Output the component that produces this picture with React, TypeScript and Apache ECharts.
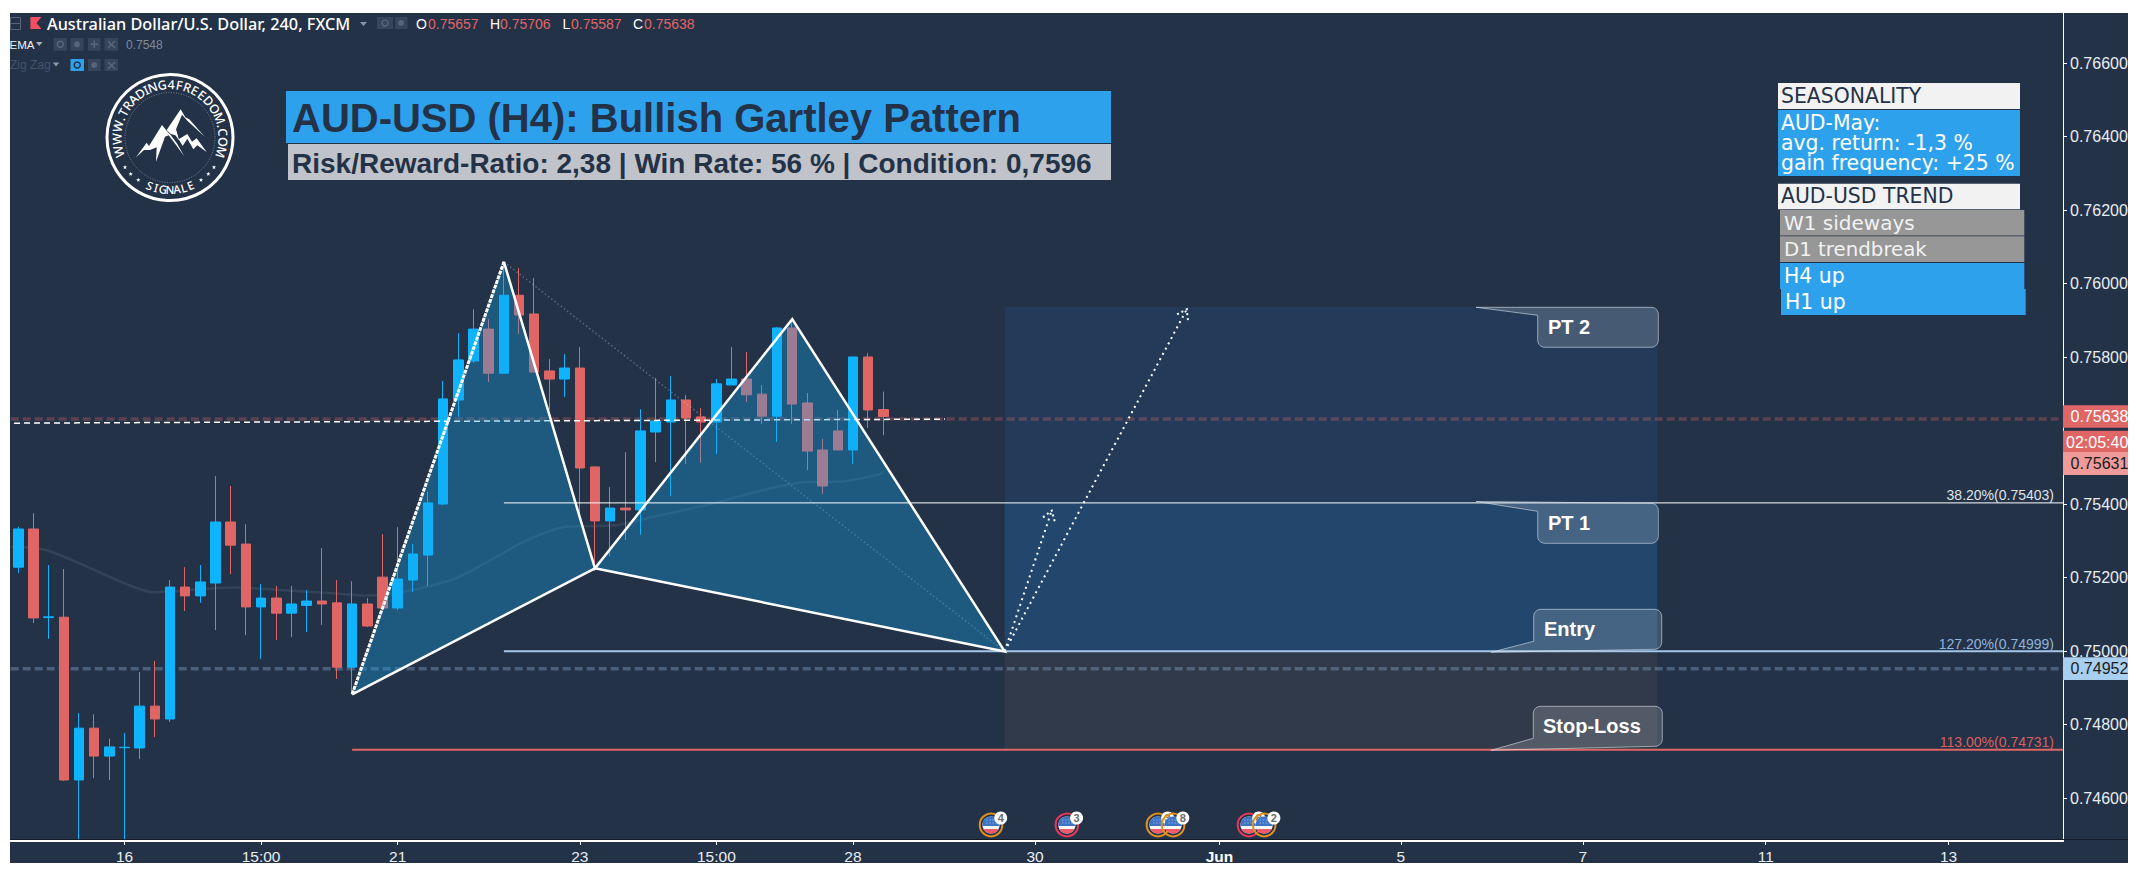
import React, { useEffect, useRef } from "react";
import * as echarts from "echarts";

// ---- data ----
const opens = [0.75228,0.75332,0.75091,0.75092,0.74649,0.7479,0.74714,0.74737,0.74736,0.7485,0.74815,0.75174,0.7515,0.75185,0.75351,0.75291,0.7512,0.75144,0.75103,0.75124,0.75136,0.75131,0.74956,0.75128,0.75201,0.75117,0.75193,0.75261,0.754,0.75683,0.75789,0.75876,0.75756,0.75968,0.75917,0.75762,0.7574,0.7577,0.75501,0.75354,0.75389,0.75384,0.75596,0.75623,0.75683,0.75637,0.75623,0.75724,0.7574,0.75699,0.75639,0.75879,0.75675,0.75547,0.75599,0.75547,0.758,0.75657];
const closes = [0.75332,0.7509,0.75093,0.74649,0.7479,0.74714,0.74739,0.74738,0.7485,0.74815,0.75174,0.7515,0.75188,0.75351,0.75288,0.7512,0.75144,0.75103,0.75128,0.75136,0.75128,0.74956,0.75128,0.75068,0.75117,0.75196,0.75264,0.75403,0.75686,0.75792,0.75876,0.75756,0.75968,0.75914,0.75759,0.7574,0.7577,0.75498,0.75354,0.75389,0.75384,0.75599,0.75626,0.75683,0.75634,0.75623,0.75727,0.7574,0.75697,0.75639,0.75879,0.75672,0.75544,0.75449,0.75547,0.758,0.75656,0.75638];
const lows = [0.75212,0.75076,0.75033,0.74646,0.74488,0.74654,0.74649,0.74488,0.74706,0.74766,0.74807,0.75109,0.75131,0.75057,0.75209,0.75043,0.74978,0.7503,0.75038,0.75052,0.75071,0.74924,0.74882,0.75065,0.75111,0.75111,0.75161,0.75177,0.75397,0.75637,0.75784,0.75732,0.75756,0.75862,0.75759,0.75656,0.75691,0.7537,0.75225,0.75258,0.75302,0.75316,0.75514,0.75422,0.75509,0.75512,0.75536,0.75724,0.75678,0.75618,0.75569,0.75618,0.75492,0.75427,0.75547,0.75509,0.75607,0.75587];
const highs = [0.75338,0.75375,0.75234,0.75223,0.74831,0.74828,0.74761,0.74777,0.74943,0.74973,0.75193,0.75228,0.75234,0.75476,0.75449,0.75345,0.75182,0.75177,0.75177,0.75166,0.7528,0.75193,0.7519,0.75144,0.75318,0.75337,0.75291,0.75433,0.75735,0.75865,0.7593,0.75903,0.7606,0.76042,0.76015,0.75794,0.75808,0.75827,0.75501,0.75446,0.75541,0.75658,0.75743,0.75748,0.75697,0.75661,0.7574,0.75827,0.75814,0.75724,0.75881,0.759,0.75702,0.75577,0.75656,0.758,0.75811,0.75706];

const emaPoints = [[-0.5,0.75284],[1.87,0.75274],[7.14,0.75182],[8.9,0.7516],[14.15,0.75173],[17.25,0.75166],[20.75,0.75157],[23,0.75151],[28.46,0.75192],[31.1,0.75247],[33.5,0.75301],[36.1,0.75338],[39.4,0.75342],[41,0.75357],[45.4,0.75398],[49.7,0.75444],[52,0.7546],[54.15,0.75461],[57,0.75484]];

const xTickBars = [7,16,25,37,46,55,67,79.15,91.1,103.1,115.15,127.2];
const xTickLabels = ["16","15:00","21","23","15:00","28","30","Jun","5","7","11","13"];
const yTicks = [0.766,0.764,0.762,0.76,0.758,0.754,0.752,0.75,0.748,0.746];

const patternBars = [22,32,38,51,65];
const patternPrices = [0.74882,0.76059,0.75225,0.75903,0.74999];

const levelPrices = [0.75403,0.74999,0.74731];
const levelStartBars = [32,32,22];
const levelLabels = ["38.20%(0.75403)","127.20%(0.74999)","113.00%(0.74731)"];
const levelColors = ["#ffffff","#a5c6e8","#e06666"];
const levelLabelColors = ["#dfe3e8","#8fb4dc","#d9605f"];

const zoneRanges = [[65,108,0.75936,0.74999],[65,108,0.75403,0.74999],[65,108,0.74999,0.74731]];
const zoneFills = ["rgba(33,150,243,0.10)","rgba(33,150,243,0.13)","rgba(200,150,100,0.08)"];

const arrowLines = [[65,0.74999,68.1,0.75382],[65,0.74999,77,0.7593]];

const lastPrice = 0.75631;
const stopDash = 0.74952;
const slopedDash = [[-0.28,0.7562],[61.07,0.75631]];

const priceTags = [0.75638,0.75631,0.74952];
const priceTagTexts = ["0.75638","0.75631","0.74952"];
const countdown = "02:05:40";

const eventBars = [64.1,69.1,75.1,76.1,81.1,82.1];
const eventCounts = ["4","3","3","8","8","2"];
const eventRings = ["#e09020","#e8385a","#e09020","#e09020","#e8385a","#e09020"];

// ---- layout ----
const BG = "#243248";
const DARK = "#243248";
const BLUE = "#2ea1ec";
const UP = "#0fb4ff";
const DOWN = "#e06666";
const AR = '"Liberation Sans", Arial, sans-serif';
const DJ = '"DejaVu Sans", sans-serif';
const GRID_L = 10.7, AXIS_X = 2063, AXIS_Y = 841, TOP = 13;
const X_MAX = 134.74;
const Y_MAX = 0.767361, Y_MIN = 0.74483;

const arc = (cx: number, cy: number, r: number, a0: number, a1: number, n = 5) => {
  const pts: number[][] = [];
  for (let i = 0; i <= n; i++) {
    const a = a0 + ((a1 - a0) * i) / n;
    pts.push([cx + r * Math.cos(a), cy + r * Math.sin(a)]);
  }
  return pts;
};
const PI = Math.PI;

// callout with pointer, px layout
function calloutPts(x0: number, y0: number, x1: number, y1: number, tip: number[], lower: boolean, join: number) {
  const r = 7;
  if (!lower) {
    return [
      tip, [x0, y0 + join],
      ...arc(x0 + r, y1 - r, r, PI, PI / 2),
      ...arc(x1 - r, y1 - r, r, PI / 2, 0),
      ...arc(x1 - r, y0 + r, r, 0, -PI / 2),
    ];
  }
  return [
    tip, [x0, y1 - join],
    ...arc(x0 + r, y0 + r, r, PI, PI * 1.5),
    ...arc(x1 - r, y0 + r, r, -PI / 2, 0),
    ...arc(x1 - r, y1 - r, r, 0, PI / 2),
  ];
}
const txt = (text: string, x: number, y: number, fill: string, font: string, align = "left") => ({
  type: "text",
  z: 60,
  style: { text, x, y, fill, font, align, verticalAlign: "middle" },
});
const box = (x: number, y: number, w: number, h: number, fill: string, z = 55) => ({
  type: "rect",
  z,
  shape: { x, y, width: w, height: h },
  style: { fill },
});
const poly = (points: number[][], fill: string, z = 60, extra: any = {}) => ({
  type: "polygon",
  z,
  shape: { points },
  style: { fill, ...extra },
});

function logo() {
  const cx = 170, cy = 137.6;
  const out: any[] = [];
  out.push({ type: "circle", z: 60, shape: { cx, cy, r: 63 }, style: { fill: "none", stroke: "#ffffff", lineWidth: 3 } });
  out.push({ type: "circle", z: 60, shape: { cx, cy, r: 45 }, style: { fill: "none", stroke: "rgba(255,255,255,0.55)", lineWidth: 0.7, lineDash: [1, 1.5] } });
  const top = "WWW.TRADING4FREEDOM.COM";
  const w: Record<string, number> = { W: 1.08, ".": 0.38, I: 0.38, M: 0.92, O: 0.88, D: 0.82, G: 0.84, N: 0.82, C: 0.78 };
  const widths = top.split("").map((c) => w[c] ?? 0.7);
  const sum = widths.reduce((a, b) => a + b, 0);
  let acc = 0;
  top.split("").forEach((c, i) => {
    const th = ((-112 + ((acc + widths[i] / 2) / sum) * 224) * PI) / 180;
    acc += widths[i];
    out.push({
      type: "text", z: 60, x: cx + 53 * Math.sin(th), y: cy - 53 * Math.cos(th), rotation: -th,
      style: { text: c, x: 0, y: 0, fill: "#ffffff", font: '500 12.5px "Noto Sans", sans-serif', align: "center", verticalAlign: "middle" },
    });
  });
  "SIGNALE".split("").forEach((c, i) => {
    const ph = ((-23 + i * (46 / 6)) * PI) / 180;
    out.push({
      type: "text", z: 60, x: cx + 52 * Math.sin(ph), y: cy + 52 * Math.cos(ph), rotation: ph,
      style: { text: c, x: 0, y: 0, fill: "#ffffff", font: '500 11.5px "Noto Sans", sans-serif', align: "center", verticalAlign: "middle" },
    });
  });
  [[125, 167.3], [130.7, 174], [138.3, 180], [214, 167.3], [208.3, 174], [201, 180]].forEach(([x, y]) => {
    const pts: number[][] = [];
    for (let i = 0; i < 10; i++) {
      const rr = i % 2 ? 0.9 : 2.3;
      const a = -PI / 2 + (i * PI) / 5;
      pts.push([x + rr * Math.cos(a), y + rr * Math.sin(a)]);
    }
    out.push(poly(pts, "#ffffff"));
  });
  const z = (list: number[][]) => list.map(([a, b]) => [100 + a / 3, 70 + b / 3]);
  out.push(poly(z([[108,262],[140,218],[147,228],[186,165],[198,180],[212,195],[232,222],[252,258],[226,222],[206,196],[195,200],[168,275],[170,232],[150,240],[132,240]]), "#ffffff"));
  out.push(poly(z([[200,180],[242,118],[256,142],[268,148],[314,200],[262,152],[246,134],[228,178],[238,212],[226,196],[212,192]]), "#ffffff"));
  out.push(poly(z([[236,208],[262,192],[276,215],[290,205],[320,246],[292,226],[280,238],[262,206],[248,228]]), "#ffffff"));
  return out;
}

function legend() {
  const btn = "#37455a", glyph = "#56657c";
  const out: any[] = [];
  out.push({ type: "rect", z: 60, shape: { x: 10.5, y: 17.5, width: 10, height: 12 }, style: { fill: "none", stroke: "#566476", lineWidth: 1 } });
  out.push({ type: "line", z: 60, shape: { x1: 10, y1: 23.5, x2: 21, y2: 23.5 }, style: { stroke: "#566476", lineWidth: 1 } });
  out.push(poly([[30.4,17],[41.5,17],[36.5,23],[41.5,29],[30.4,29]], "#f44e62"));
  out.push(txt("Australian Dollar/U.S. Dollar, 240, FXCM", 47, 24, "#ffffff", '500 16.3px "Noto Sans", sans-serif'));
  out.push(poly([[360,22],[367,22],[363.5,26]], "#8b95a3"));
  out.push(box(377, 17, 16, 12, btn, 60), box(395, 17, 12.5, 12, btn, 60));
  out.push({ type: "circle", z: 61, shape: { cx: 385, cy: 23, r: 3 }, style: { fill: "none", stroke: glyph, lineWidth: 1.5 } });
  out.push({ type: "circle", z: 61, shape: { cx: 401, cy: 23, r: 3 }, style: { fill: glyph } });
  const ohlc: [string, string, number, number][] = [["O","0.75657",416,428],["H","0.75706",490,500],["L","0.75587",562.5,571],["C","0.75638",633,644]];
  ohlc.forEach(([k, v, a, b]) => {
    out.push(txt(k, a, 24, "#ffffff", `14px ${AR}`), txt(v, b, 24, DOWN, `14px ${AR}`));
  });
  out.push(txt("EMA", 9.5, 44.5, "#eef1f4", `11.5px ${AR}`));
  out.push(poly([[36,42],[42.5,42],[39.2,46]], "#aab2bc"));
  [[53.6,13.4],[70.5,13],[88,12.5],[104.5,13.5]].forEach(([x, w]) => out.push(box(x, 38, w, 12.7, btn, 60)));
  out.push({ type: "circle", z: 61, shape: { cx: 60.3, cy: 44.3, r: 3 }, style: { fill: "none", stroke: glyph, lineWidth: 1.5 } });
  out.push({ type: "circle", z: 61, shape: { cx: 77, cy: 44.3, r: 3 }, style: { fill: glyph } });
  out.push({ type: "line", z: 61, shape: { x1: 90.5, y1: 44.3, x2: 98, y2: 44.3 }, style: { stroke: glyph, lineWidth: 1.6 } });
  out.push({ type: "line", z: 61, shape: { x1: 94.2, y1: 40.5, x2: 94.2, y2: 48 }, style: { stroke: glyph, lineWidth: 1.6 } });
  out.push({ type: "line", z: 61, shape: { x1: 108, y1: 41, x2: 115, y2: 48 }, style: { stroke: glyph, lineWidth: 1.6 } });
  out.push({ type: "line", z: 61, shape: { x1: 115, y1: 41, x2: 108, y2: 48 }, style: { stroke: glyph, lineWidth: 1.6 } });
  out.push(txt("0.7548", 126, 44.5, "#7f8997", `12px ${AR}`));
  out.push(txt("Zig Zag", 10, 65, "#465367", `12px ${AR}`));
  out.push(poly([[52.7,62.5],[59.4,62.5],[56,66.5]], "#8b95a3"));
  out.push(box(70.5, 59, 13.5, 12, BLUE, 60), box(88, 59, 12.5, 12, btn, 60), box(104.5, 59, 13.5, 12, btn, 60));
  out.push({ type: "circle", z: 61, shape: { cx: 77.2, cy: 65, r: 3 }, style: { fill: "none", stroke: DARK, lineWidth: 1.5 } });
  out.push({ type: "circle", z: 61, shape: { cx: 94.2, cy: 65, r: 3 }, style: { fill: glyph } });
  out.push({ type: "line", z: 61, shape: { x1: 108, y1: 62, x2: 115, y2: 69 }, style: { stroke: glyph, lineWidth: 1.6 } });
  out.push({ type: "line", z: 61, shape: { x1: 115, y1: 62, x2: 108, y2: 69 }, style: { stroke: glyph, lineWidth: 1.6 } });
  return out;
}

function panels() {
  const f = `20.4px ${DJ}`;
  return [
    box(286, 91, 825, 52, BLUE),
    txt("AUD-USD (H4): Bullish Gartley Pattern", 292, 117.5, DARK, `bold 40px ${AR}`),
    box(288, 144, 823, 36, "#c0c4ca"),
    txt("Risk/Reward-Ratio: 2,38 | Win Rate: 56 % | Condition: 0,7596", 292, 163, DARK, `bold 28px ${AR}`),
    box(1778, 83, 242, 26, "#f2f2f2"),
    txt("SEASONALITY", 1781, 96, DARK, f),
    box(1778, 110, 242, 66, BLUE),
    txt("AUD-May:", 1781, 123, "#ffffff", f),
    txt("avg. return: -1,3 %", 1781, 143, "#ffffff", f),
    txt("gain frequency: +25 %", 1781, 163, "#ffffff", f),
    box(1778, 183.7, 242, 25.5, "#f2f2f2"),
    txt("AUD-USD TREND", 1781, 196, DARK, f),
    box(1780, 210, 244.3, 25.6, "#979797"),
    txt("W1 sideways", 1784, 223, "#f2f2f2", `20px ${DJ}`),
    box(1780, 236.3, 244.3, 25.7, "#979797"),
    txt("D1 trendbreak", 1784, 249, "#f2f2f2", `19.8px ${DJ}`),
    box(1780, 263, 244.3, 26, BLUE),
    txt("H4 up", 1784, 276, "#ffffff", f),
    box(1781, 289, 244.7, 26, BLUE),
    txt("H1 up", 1785, 302, "#ffffff", f),
  ];
}

function callouts() {
  const fill = "rgba(255,255,255,0.16)";
  const stroke = "rgba(214,222,232,0.62)";
  const items: [string, number, number, number, number, number[], boolean, number, number][] = [
    ["PT 2", 1537.7, 307.3, 1658.3, 347.3, [1476, 307.3], false, 8, 1548],
    ["PT 1", 1537.7, 503.3, 1658.3, 543.3, [1476, 501.5], false, 8, 1548],
    ["Entry", 1533.7, 609.3, 1661.7, 649.3, [1491, 652.3], true, 8, 1544],
    ["Stop-Loss", 1533.3, 706.3, 1662.3, 746.3, [1491, 750.3], true, 8, 1543],
  ];
  const out: any[] = [];
  items.forEach(([t, x0, y0, x1, y1, tip, lower, join, tx]) => {
    out.push(poly(calloutPts(x0, y0, x1, y1, tip, lower, join), fill, 58, { stroke, lineWidth: 1 }));
    out.push(txt(t, tx, (y0 + y1) / 2 - 0.5, "#ffffff", `bold 20px ${AR}`));
  });
  return out;
}

function renderZone(p: any, api: any) {
  const a = api.coord([api.value(0), api.value(2)]);
  const b = api.coord([api.value(1), api.value(3)]);
  return { type: "rect", shape: { x: a[0], y: a[1], width: b[0] - a[0], height: b[1] - a[1] }, style: { fill: zoneFills[p.dataIndex] } };
}
function renderFill(p: any, api: any) {
  const pts = [0, 1, 2].map((k) => api.coord([api.value(k * 2), api.value(k * 2 + 1)]));
  return { type: "polygon", shape: { points: pts }, style: { fill: "rgba(18,168,236,0.335)" } };
}
function renderLevel(p: any, api: any) {
  const i = p.dataIndex;
  const a = api.coord([api.value(0), api.value(1)]);
  const w = i === 0 ? 1 : 2;
  return {
    type: "group",
    children: [
      { type: "line", shape: { x1: a[0], y1: a[1], x2: AXIS_X, y2: a[1] }, style: { stroke: levelColors[i], lineWidth: w } },
      { type: "text", style: { text: levelLabels[i], x: 2054, y: a[1] - 7.5, fill: levelLabelColors[i], font: `14px ${AR}`, align: "right", verticalAlign: "middle" } },
    ],
  };
}
function renderArrow(p: any, api: any) {
  const a = api.coord([api.value(0), api.value(1)]);
  const b = api.coord([api.value(2), api.value(3)]);
  const ang = Math.atan2(b[1] - a[1], b[0] - a[0]);
  const head = [
    [b[0] + 11 * Math.cos(ang + 2.55), b[1] + 11 * Math.sin(ang + 2.55)],
    b,
    [b[0] + 11 * Math.cos(ang - 2.55), b[1] + 11 * Math.sin(ang - 2.55)],
  ];
  const st = { stroke: "#ffffff", lineWidth: 2, lineDash: [2, 4], fill: "none" };
  return {
    type: "group",
    children: [
      { type: "line", shape: { x1: a[0], y1: a[1], x2: b[0], y2: b[1] }, style: st },
      { type: "polyline", shape: { points: head }, style: { stroke: "#ffffff", lineWidth: 2, lineDash: [2, 3], fill: "none" } },
    ],
  };
}
function renderTag(p: any, api: any) {
  const i = p.dataIndex;
  const c = api.coord([api.value(0), api.value(1)]);
  const kids: any[] = [];
  const tag = (cy: number, h: number, fill: string, text: string, color: string, tx = AXIS_X + 7.5) => {
    kids.push({ type: "rect", shape: { x: AXIS_X, y: cy - h / 2, width: 65, height: h }, style: { fill } });
    kids.push({ type: "text", style: { text, x: tx, y: cy, fill: color, font: `16px ${AR}`, verticalAlign: "middle" } });
  };
  if (i === 0) {
    tag(c[1], 22.6, DOWN, priceTagTexts[0], "#ffffff");
    tag(c[1] + 25.8, 23, DOWN, countdown, "#ffffff", AXIS_X + 3);
  } else if (i === 1) {
    tag(c[1] + 44.3, 23, "#f09a9a", priceTagTexts[1], "#1c1c1c");
  } else {
    tag(c[1], 22.6, "#a8cef0", priceTagTexts[2], "#1c1c1c");
  }
  return { type: "group", children: kids };
}
function renderEvent(p: any, api: any) {
  const i = p.dataIndex;
  const x = api.coord([api.value(0), 0.75])[0];
  const y = 825;
  const R = 8.6;
  const chord = (dy: number, sign: number) => {
    const a = Math.asin(dy / R);
    return sign > 0 ? arc(x, y, R, a, PI - a, 8) : arc(x, y, R, PI - a, 2 * PI + a, 12);
  };
  const dots: any[] = [];
  [-4, -1, 2, 5].forEach((dx) => [-5, -2].forEach((dy) => dots.push({ type: "rect", shape: { x: x + dx - 0.5, y: y + dy - 0.5, width: 1, height: 1 }, style: { fill: "#a8c4ea" } })));
  return {
    type: "group",
    children: [
      { type: "circle", shape: { cx: x, cy: y, r: 11.3 }, style: { fill: "none", stroke: eventRings[i], lineWidth: 2 } },
      { type: "circle", shape: { cx: x, cy: y, r: R }, style: { fill: "#f4f6f8" } },
      { type: "polygon", shape: { points: chord(1, -1) }, style: { fill: "#3f74c4" } },
      { type: "polygon", shape: { points: chord(4, 1) }, style: { fill: "#ee5a6a" } },
      ...dots,
      { type: "circle", shape: { cx: x + 9.7, cy: y - 7, r: 6.5 }, style: { fill: "#ffffff" } },
      { type: "text", style: { text: eventCounts[i], x: x + 9.7, y: y - 6.7, fill: "#6b6b6b", font: `bold 11px ${AR}`, align: "center", verticalAlign: "middle" } },
    ],
  };
}

export default function App() {
  const ref = useRef<HTMLDivElement>(null);
  useEffect(() => {
    document.body.style.margin = "0";
    const chart = echarts.init(ref.current!, undefined, { renderer: "svg" });
    const candleData = opens.map((o, i) => [i, o, closes[i], lows[i], highs[i]]);
    const patternPts = patternBars.map((b, i) => [b, patternPrices[i]]);
    const plain = { animation: false, silent: true, showSymbol: false, symbol: "none" as const };
    const option: any = {
      animation: false,
      backgroundColor: "transparent",
      grid: { left: GRID_L, right: 2138 - AXIS_X, top: TOP, bottom: 874 - AXIS_Y, containLabel: false },
      xAxis: {
        type: "value",
        min: -0.5,
        max: X_MAX,
        splitLine: { show: false },
        axisLine: { show: true, onZero: false, lineStyle: { color: "#ffffff", width: 2 } },
        axisTick: { show: true, length: 4, customValues: xTickBars, lineStyle: { color: "#ffffff", width: 1 } },
        axisLabel: {
          show: true,
          customValues: xTickBars,
          margin: 7.5,
          color: "#e8edf2",
          fontFamily: "Liberation Sans",
          fontSize: 15.5,
          formatter: (v: number) => {
            const t = xTickLabels[xTickBars.indexOf(v)] ?? "";
            return t === "Jun" ? "{b|Jun}" : t;
          },
          rich: { b: { fontWeight: "bold", color: "#ffffff", fontFamily: "Liberation Sans", fontSize: 15.5 } },
        },
      },
      yAxis: {
        type: "value",
        position: "right",
        min: Y_MIN,
        max: Y_MAX,
        scale: true,
        splitLine: { show: false },
        axisLine: { show: true, onZero: false, lineStyle: { color: "#ffffff", width: 1 } },
        axisTick: { show: true, length: 4, customValues: yTicks, lineStyle: { color: "#ffffff" } },
        axisLabel: {
          show: true,
          customValues: yTicks,
          margin: 7,
          color: "#e8edf2",
          fontFamily: "Liberation Sans",
          fontSize: 16,
          formatter: (v: number) => v.toFixed(5),
        },
      },
      graphic: [
        box(10, 13, 2118, 850, BG, 0),
        { type: "line", z: 1, shape: { x1: 10, y1: 839.5, x2: 2128, y2: 839.5 }, style: { stroke: "#141c28", lineWidth: 1 } },
        ...legend(),
        ...logo(),
        ...panels(),
        ...callouts(),
      ],
      series: [
        { type: "custom", z: 1, silent: true, renderItem: renderZone, data: zoneRanges, encode: { x: [0, 1], y: [2, 3] } },
        { ...plain, type: "line", z: 2, data: emaPoints, smooth: 0.3, lineStyle: { color: "rgba(200,215,230,0.1)", width: 2.5 } },
        { ...plain, type: "line", z: 2, clip: false, data: [[-0.5, lastPrice], [X_MAX, lastPrice]], lineStyle: { color: "rgba(224,102,102,0.3)", width: 3.5, type: [8, 4] } },
        { ...plain, type: "line", z: 2, clip: false, data: [[-0.5, stopDash], [X_MAX, stopDash]], lineStyle: { color: "rgba(160,200,240,0.3)", width: 3.5, type: [8, 4] } },
        {
          type: "candlestick",
          z: 3,
          silent: true,
          barWidth: 10,
          data: candleData,
          itemStyle: { color: UP, color0: DOWN, borderColor: UP, borderColor0: DOWN, borderWidth: 1 },
        },
        { ...plain, type: "line", z: 4, data: slopedDash, lineStyle: { color: "#ffffff", width: 1.5, type: [6, 4] } },
        { ...plain, type: "line", z: 4, data: [patternPts[1], patternPts[4]], lineStyle: { color: "rgba(205,215,225,0.32)", width: 1.5, type: [1.5, 2.5] } },
        {
          type: "custom",
          z: 5,
          silent: true,
          renderItem: renderFill,
          data: [
            [...patternPts[0], ...patternPts[1], ...patternPts[2]],
            [...patternPts[2], ...patternPts[3], ...patternPts[4]],
          ],
          encode: { x: [0, 2, 4], y: [1, 3, 5] },
        },
        { ...plain, type: "line", z: 6, data: patternPts.slice(0, 2), lineStyle: { color: "#ffffff", width: 3, type: [4, 1] } },
        { ...plain, type: "line", z: 6, data: [patternPts[1], patternPts[2], patternPts[3], patternPts[4], patternPts[2]], lineStyle: { color: "#ffffff", width: 2.5, join: "miter" } },
        { ...plain, type: "line", z: 6, data: [patternPts[0], patternPts[2]], lineStyle: { color: "#ffffff", width: 2.5 } },
        { type: "custom", z: 6, silent: true, renderItem: renderLevel, data: levelPrices.map((v, i) => [levelStartBars[i], v]), encode: { x: 0, y: 1 } },
        { type: "custom", z: 6, silent: true, renderItem: renderArrow, data: arrowLines, encode: { x: [0, 2], y: [1, 3] } },
        { type: "custom", z: 7, silent: true, renderItem: renderEvent, data: eventBars.map((b) => [b]), encode: { x: 0 } },
        { type: "custom", z: 7, silent: true, renderItem: renderTag, data: priceTags.map((v) => [X_MAX, v]), encode: { x: 0, y: 1 } },
      ],
    };
    chart.setOption(option);
    return () => chart.dispose();
  }, []);
  return <div ref={ref} style={{ position: "absolute", left: 0, top: 0, width: 2138, height: 874 }} />;
}
